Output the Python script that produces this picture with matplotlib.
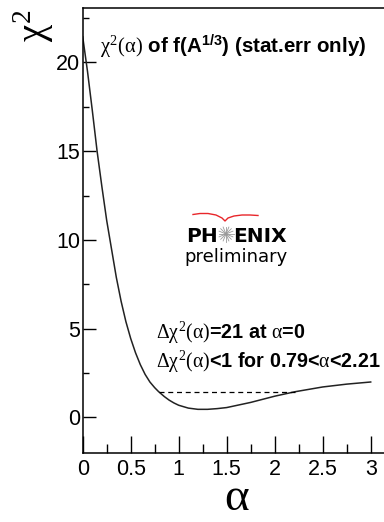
import numpy as np
import matplotlib.pyplot as plt
from matplotlib.lines import Line2D

plt.rcParams['font.family'] = ['Liberation Sans', 'DejaVu Sans']
plt.rcParams['mathtext.fontset'] = 'custom'
plt.rcParams['mathtext.it'] = 'Liberation Serif'
plt.rcParams['mathtext.rm'] = 'Liberation Serif'
plt.rcParams['mathtext.bf'] = 'Liberation Sans:bold'

# chi2 scan vs alpha
alpha = [0.0, 0.05, 0.1, 0.15, 0.2, 0.25, 0.3, 0.35, 0.4, 0.45, 0.5, 0.55,
         0.6, 0.65, 0.7, 0.75, 0.79, 0.85, 0.9, 0.95, 1.0, 1.1, 1.2, 1.3,
         1.4, 1.5, 1.75, 2.0, 2.21, 2.5, 2.75, 3.0]
chi2 = [21.45, 19.5, 17.3, 15.0, 13.0, 11.1, 9.5, 7.9, 6.55, 5.4, 4.45, 3.65,
        2.98, 2.43, 2.0, 1.68, 1.46, 1.18, 0.98, 0.82, 0.69, 0.53, 0.46, 0.46,
        0.5, 0.56, 0.85, 1.2, 1.45, 1.72, 1.88, 2.0]
chi2_min = 0.45
one_sigma = [0.79, 2.21]

W, H = 384, 522
fig = plt.figure(figsize=(W / 100, H / 100), dpi=100)
ax = fig.add_axes([82.7 / W, 1 - 453 / H, 0.8, (453 - 8) / H])

ax.plot(alpha, chi2, color='#222222', lw=1.1)
ax.plot(one_sigma, [chi2_min + 1, chi2_min + 1], color='black', lw=0.9, ls=(0, (4, 3)))

ax.set_xlim(0, 3.2)
ax.set_ylim(-2, 23.07)
ax.set_xticks(np.arange(0, 3.01, 0.5))
ax.set_xticklabels(['0', '0.5', '1', '1.5', '2', '2.5', '3'])
ax.set_xticks(np.arange(0.25, 3.01, 0.5), minor=True)
ax.set_yticks([0, 5, 10, 15, 20])
ax.set_yticks([2.5, 7.5, 12.5, 17.5, 22.5], minor=True)
ax.tick_params(which='both', direction='in', labelsize=15.5, width=1.0)
ax.tick_params(axis='y', which='major', length=9.4, pad=2)
ax.tick_params(axis='y', which='minor', length=4.3)
ax.tick_params(axis='x', which='major', length=12, pad=4)
ax.tick_params(axis='x', which='minor', length=6.5)
for s in ax.spines.values():
    s.set_linewidth(1.1)


def px(x, y):
    return x / W, 1 - y / H


fig.text(*px(34, 26), r'$\chi^2$', fontsize=28, rotation=90, ha='center', va='center')
fig.text(*px(237, 510), r'$\alpha$', fontsize=34, ha='center', va='baseline')

fig.text(*px(100, 53), r'$\chi^2(\alpha)$ of f(A$^{\mathbf{1/3}}$) (stat.err only)',
         fontsize=14.8, fontweight='bold', ha='left', va='baseline')
fig.text(*px(156, 339), r'$\Delta\chi^2(\alpha)$=21 at $\alpha$=0',
         fontsize=14.2, fontweight='bold', ha='left', va='baseline')
fig.text(*px(156, 368), r'$\Delta\chi^2(\alpha)$<1 for 0.79<$\alpha$<2.21',
         fontsize=14.2, fontweight='bold', ha='left', va='baseline')

# PHENIX preliminary logo
fig.text(*px(218, 242), 'PH', fontsize=14.5, fontweight='bold', ha='right', va='baseline',
         family='DejaVu Sans')
fig.text(*px(233, 242), 'ENIX', fontsize=14.5, fontweight='bold', ha='left', va='baseline',
         family='DejaVu Sans')
fig.text(*px(236, 262), 'preliminary', fontsize=13, ha='center', va='baseline',
         family='DejaVu Sans')
cx, cy = 226, 234
for a in np.linspace(0, np.pi, 8, endpoint=False):
    dx, dy = 7.5 * np.cos(a), 7.5 * np.sin(a)
    x0, y0 = px(cx - dx, cy - dy)
    x1, y1 = px(cx + dx, cy + dy)
    fig.add_artist(Line2D([x0, x1], [y0, y1], color='#999999', lw=0.6))
arc_x = [193, 200, 208, 216, 222, 225, 228, 234, 242, 250, 258]
arc_y = [214.5, 213.5, 213.5, 215, 218, 221, 218, 216, 215, 215, 215.5]
fig.add_artist(Line2D([x / W for x in arc_x], [1 - y / H for y in arc_y],
                      color='#e8262a', lw=1.0))

fig.savefig('out.png', dpi=100)
